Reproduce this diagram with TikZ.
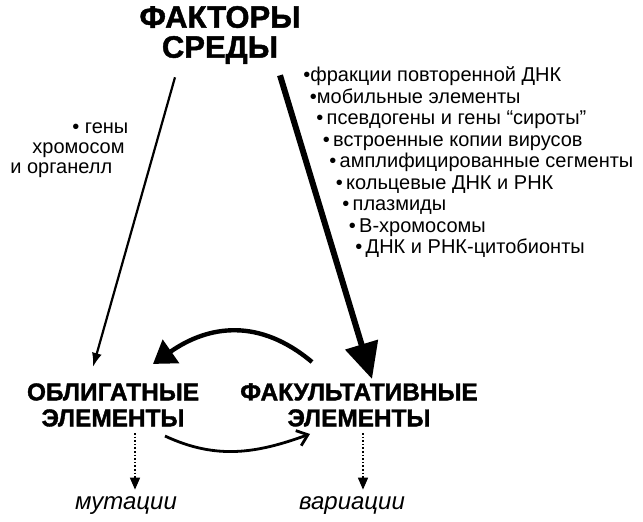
\documentclass[tikz,border=0pt]{standalone}
\usepackage{fontspec}
\setmainfont{Liberation Sans}
\newfontfamily\heavyfont{Liberation Sans Bold}[FakeBold=1.5]
\usetikzlibrary{positioning, arrows.meta, calc}

\begin{document}
\begin{tikzpicture}[
        x=0.5pt, y=0.5pt,
        head/.style={font=\fontsize{15.5}{15}\selectfont\heavyfont, align=center, inner sep=1pt},
        elem/.style={font=\fontsize{12.2}{13}\selectfont\heavyfont, align=center, inner sep=1pt},
        result/.style={font=\fontsize{12}{14}\selectfont\itshape, inner sep=1pt},
        item/.style={font=\fontsize{10}{12}\selectfont, inner sep=0pt, anchor=base west},
        note/.style={font=\fontsize{10}{10}\selectfont, align=left, inner sep=0pt, anchor=west},
        thinarr/.style={line width=1.1pt, -{Latex[length=7pt, width=5pt]}},
        thickarr/.style={line width=3pt, -{Triangle[length=18pt, width=16.5pt]}},
        backarr/.style={line width=2.2pt, -{Triangle[length=11pt, width=14pt]}},
        fwdarr/.style={line width=1.4pt, -{Straight Barb[length=5pt, width=8pt]}},
        dotarr/.style={line width=0.8pt, densely dotted, -{Triangle[length=6pt, width=5pt]}},
        node distance=10.75pt]

        \useasboundingbox (0,0) rectangle (643,522);

        % Main nodes
        \node (env) [head] at (220,487) {ФАКТОРЫ\\СРЕДЫ};
        \node (obl) [elem] at (113,117) {ОБЛИГАТНЫЕ\\ЭЛЕМЕНТЫ};
        \node (fak) [elem] at (359,117) {ФАКУЛЬТАТИВНЫЕ\\ЭЛЕМЕНТЫ};
        \node (mut) [result] at (126,16) {мутации};
        \node (var) [result] at (352,16) {вариации};

        % Left note
        \node (genes) [note] at (10,372) {\hspace*{31pt}• гены\\\hspace*{11pt}хромосом\\и органелл};

        % Right list, each line a little to the right
        \node (f1) [item] at (303,440) {•фракции повторенной ДНК};
        \node (f2) [item, below=of f1.base west, anchor=base west, xshift=3.25pt] {•мобильные элементы};
        \node (f3) [item, below=of f2.base west, anchor=base west, xshift=3.25pt] {•\,псевдогены и гены “сироты”};
        \node (f4) [item, below=of f3.base west, anchor=base west, xshift=3.25pt] {•\,встроенные копии вирусов};
        \node (f5) [item, below=of f4.base west, anchor=base west, xshift=3.25pt] {•\,амплифицированные сегменты};
        \node (f6) [item, below=of f5.base west, anchor=base west, xshift=3.25pt] {•\,кольцевые ДНК и РНК};
        \node (f7) [item, below=of f6.base west, anchor=base west, xshift=3.25pt] {•\,плазмиды};
        \node (f8) [item, below=of f7.base west, anchor=base west, xshift=3.25pt] {•\,В-хромосомы};
        \node (f9) [item, below=of f8.base west, anchor=base west, xshift=3.25pt] {•\,ДНК и РНК-цитобионты};

        % Arrows from the environment
        \draw[thinarr] ($(env.south)+(-45,-11)$) -- ($(obl.north)+(-20,14)$);
        \draw[thickarr] ($(env.south)+(60,-9)$) -- ($(fak.north)+(13,2)$);

        % Between the two kinds of elements
        \draw[backarr] ($(fak.north)+(-47,19)$) to[out=140, in=35, looseness=1.1] ($(obl.north)+(40,17)$);
        \draw[fwdarr] ($(obl.south)+(52,-7)$) to[out=-25, in=200] ($(fak.south)+(-49,-5)$);

        % Results
        \draw[dotarr] ($(obl.south)+(22,-4)$) -- ($(mut.north)+(9,5)$);
        \draw[dotarr] ($(fak.south)+(4,-4)$) -- ($(var.north)+(11,5)$);

    \end{tikzpicture}
\end{document}
